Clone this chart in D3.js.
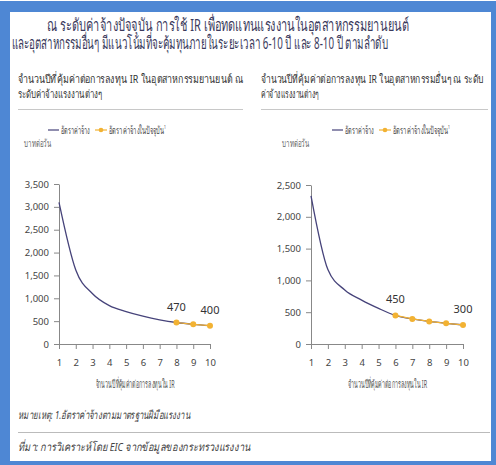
<!DOCTYPE html>
<html>
<head>
<meta charset="utf-8">
<script src="https://cdn.jsdelivr.net/npm/d3@7"></script>
<style>
  body { margin: 0; background: #fff; }
  svg text { font-family: "Noto Sans", "Open Sans", sans-serif; }
</style>
</head>
<body>
<div id="chart"></div>
<script>
// years until payback (x axis)
const years = [1, 2, 3, 4, 5, 6, 7, 8, 9, 10];

// automotive industry: daily wage (baht) needed for each payback period
const autoWage = [3100, 1620, 1100, 840, 710, 610, 530, 470, 430, 400];
const autoCurrentYears = [8, 9, 10];
const autoCurrentWage = [470, 430, 400];
const autoTicks = [0, 500, 1000, 1500, 2000, 2500, 3000, 3500];

// other industries
const otherWage = [2330, 1170, 850, 690, 560, 450, 395, 355, 325, 300];
const otherCurrentYears = [6, 7, 8, 9, 10];
const otherCurrentWage = [450, 395, 355, 325, 300];
const otherTicks = [0, 500, 1000, 1500, 2000, 2500];

const titleLines = [
  'ณ ระดับค่าจ้างปัจจุบัน การใช้ IR เพื่อทดแทนแรงงานในอุตสาหกรรมยานยนต์',
  'และอุตสาหกรรมอื่นๆ มีแนวโน้มที่จะคุ้มทุนภายในระยะเวลา 6-10 ปี และ 8-10 ปี ตามลำดับ'
];
const leftSub = ['จำนวนปีที่คุ้มค่าต่อการลงทุน IR ในอุตสาหกรรมยานยนต์ ณ', 'ระดับค่าจ้างแรงงานต่างๆ'];
const rightSub = ['จำนวนปีที่คุ้มค่าต่อการลงทุน IR ในอุตสาหกรรมอื่นๆ ณ ระดับ', 'ค่าจ้างแรงงานต่างๆ'];
const seriesNames = ['อัตราค่าจ้าง', 'อัตราค่าจ้างในปัจจุบัน'];
const yUnit = 'บาทต่อวัน';
const xTitle = 'จำนวนปีที่คุ้มค่าต่อการลงทุนใน IR';
const note = 'หมายเหตุ: 1.อัตราค่าจ้างตามมาตรฐานฝีมือแรงงาน';
const source = 'ที่มา: การวิเคราะห์โดย EIC จากข้อมูลของกระทรวงแรงงาน';

const W = 496, H = 465;
const navy = '#46437a';
const gold = '#f2b233';
const textCol = '#444';

const svg = d3.select('#chart').append('svg').attr('width', W).attr('height', H);

// squeeze a text into the width it has in the picture (the Thai font there is narrow)
function fit(sel, w) {
  return sel.attr('textLength', w).attr('lengthAdjust', 'spacingAndGlyphs');
}

// blue frame
svg.append('rect').attr('x', 0).attr('y', 1).attr('width', W).attr('height', H - 1).attr('fill', '#4e87d4');
svg.append('rect').attr('x', 10).attr('y', 12).attr('width', 481).attr('height', 449).attr('fill', '#fff');

// title
fit(svg.append('text').attr('x', 47).attr('y', 31)
  .attr('font-size', 17).attr('fill', '#3b3a5c').text(titleLines[0]), 362);
fit(svg.append('text').attr('x', 12).attr('y', 49)
  .attr('font-size', 17).attr('fill', '#3b3a5c').text(titleLines[1]), 376);

function panel(o) {
  const g = svg.append('g');
  // subtitle
  o.sub.forEach((s, i) => {
    fit(g.append('text').attr('x', o.subX).attr('y', 83 + i * 15)
      .attr('font-size', 11.5).attr('fill', '#333').text(s), o.subW[i]);
  });
  g.append('line').attr('x1', o.subX).attr('x2', o.lineEnd).attr('y1', 109.5).attr('y2', 109.5)
    .attr('stroke', '#c8c8c8').attr('stroke-width', 1.2);

  // legend
  const ly = 130;
  g.append('line').attr('x1', o.legX).attr('x2', o.legX + 11).attr('y1', ly).attr('y2', ly)
    .attr('stroke', navy).attr('stroke-width', 1.2);
  fit(g.append('text').attr('x', o.legX + 13).attr('y', ly + 3.5).attr('font-size', 10.5)
    .attr('fill', textCol).text(seriesNames[0]), 29);
  const ox = o.legX + 47;
  g.append('line').attr('x1', ox).attr('x2', ox + 12).attr('y1', ly).attr('y2', ly)
    .attr('stroke', gold).attr('stroke-width', 1.2);
  g.append('circle').attr('cx', ox + 6).attr('cy', ly).attr('r', 2.3).attr('fill', gold);
  const lt = fit(g.append('text').attr('x', ox + 14).attr('y', ly + 3.5).attr('font-size', 10.5)
    .attr('fill', textCol).text(seriesNames[1]), 57);
  lt.append('tspan').attr('dy', -5).attr('font-size', 6).text('1');

  fit(g.append('text').attr('x', o.unitX).attr('y', 147).attr('font-size', 10.5)
    .attr('fill', '#666').text(yUnit), 27);

  const x = d3.scaleLinear().domain([1, 10]).range(o.xr);
  const y = d3.scaleLinear().domain([0, d3.max(o.ticks)]).range(o.yr);

  const ya = g.append('g').attr('transform', `translate(${o.xr[0]},0)`)
    .call(d3.axisLeft(y).tickValues(o.ticks).tickFormat(d3.format(',')).tickSize(5).tickSizeOuter(0).tickPadding(5));
  const xa = g.append('g').attr('transform', `translate(0,${o.yr[0]})`)
    .call(d3.axisBottom(x).tickValues(years).tickSize(5).tickSizeOuter(0).tickPadding(10));
  [ya, xa].forEach(a => {
    a.selectAll('path,line').attr('stroke', '#888');
    a.selectAll('text').attr('fill', textCol).attr('font-size', 9.5);
  });

  fit(g.append('text').attr('x', (o.xr[0] + o.xr[1]) / 2 - 39).attr('y', 388)
    .attr('font-size', 11).attr('fill', '#555').text(xTitle), 79);

  const line = d3.line().x(d => x(d[0])).y(d => y(d[1])).curve(d3.curveMonotoneX);
  g.append('path').datum(years.map((d, i) => [d, o.wage[i]]))
    .attr('d', line).attr('fill', 'none').attr('stroke', navy).attr('stroke-width', 1.3);

  const cur = o.curYears.map((d, i) => [d, o.curWage[i]]);
  g.append('path').datum(cur).attr('d', d3.line().x(d => x(d[0])).y(d => y(d[1])))
    .attr('fill', 'none').attr('stroke', gold).attr('stroke-width', 1.2);
  g.selectAll('.dot').data(cur).join('circle').attr('class', 'dot')
    .attr('cx', d => x(d[0])).attr('cy', d => y(d[1])).attr('r', 3).attr('fill', gold);

  const labs = [cur[0], cur[cur.length - 1]];
  g.selectAll('.lab').data(labs).join('text').attr('class', 'lab')
    .attr('x', d => x(d[0])).attr('y', d => y(d[1]) - 12).attr('text-anchor', 'middle')
    .attr('font-size', 11).attr('fill', '#333').text(d => d[1]);
}

panel({
  sub: leftSub, subW: [225, 84], subX: 18, lineEnd: 243, legX: 48, unitX: 24,
  xr: [59, 210], yr: [344, 184], ticks: autoTicks, wage: autoWage,
  curYears: autoCurrentYears, curWage: autoCurrentWage
});
panel({
  sub: rightSub, subW: [222, 58], subX: 261, lineEnd: 488, legX: 332, unitX: 282,
  xr: [311, 463], yr: [344, 185], ticks: otherTicks, wage: otherWage,
  curYears: otherCurrentYears, curWage: otherCurrentWage
});

// footer
fit(svg.append('text').attr('x', 18).attr('y', 419).attr('font-size', 11.5).attr('font-style', 'italic')
  .attr('fill', '#444').text(note), 172);
svg.append('line').attr('x1', 18).attr('x2', 490).attr('y1', 432.5).attr('y2', 432.5)
  .attr('stroke', '#bbb').attr('stroke-width', 1.2);
fit(svg.append('text').attr('x', 18).attr('y', 451).attr('font-size', 11.5).attr('font-style', 'italic')
  .attr('fill', '#444').text(source), 232);
</script>
</body>
</html>
